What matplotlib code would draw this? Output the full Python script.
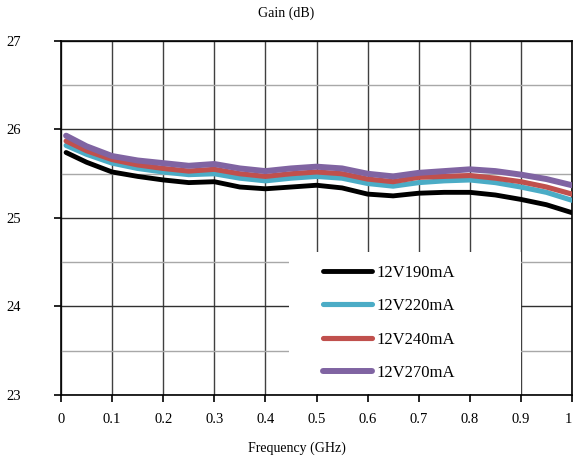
import matplotlib
matplotlib.use("Agg")
import matplotlib.pyplot as plt
from matplotlib.patches import Rectangle

plt.rcParams['font.family'] = ['Liberation Serif', 'DejaVu Serif']

# Frequenz (GHz)
freq = [0.01, 0.05, 0.1, 0.15, 0.2, 0.25, 0.3, 0.35, 0.4, 0.45, 0.5,
        0.55, 0.6, 0.65, 0.7, 0.75, 0.8, 0.85, 0.9, 0.95, 1.0]

# Gain (dB) pro Arbeitspunkt
gain_190 = [25.74, 25.63, 25.52, 25.47, 25.43, 25.40, 25.41, 25.35, 25.33, 25.35, 25.37,
            25.34, 25.27, 25.25, 25.28, 25.29, 25.29, 25.26, 25.21, 25.15, 25.06]
gain_220 = [25.82, 25.72, 25.62, 25.56, 25.52, 25.49, 25.50, 25.45, 25.42, 25.45, 25.47,
            25.45, 25.39, 25.36, 25.40, 25.42, 25.43, 25.40, 25.35, 25.29, 25.20]
gain_240 = [25.87, 25.76, 25.66, 25.60, 25.56, 25.53, 25.55, 25.50, 25.47, 25.50, 25.52,
            25.50, 25.44, 25.41, 25.46, 25.47, 25.48, 25.45, 25.41, 25.35, 25.27]
gain_270 = [25.93, 25.81, 25.70, 25.65, 25.62, 25.59, 25.61, 25.56, 25.53, 25.56, 25.58,
            25.56, 25.50, 25.47, 25.51, 25.53, 25.55, 25.53, 25.49, 25.44, 25.37]

labels = ["12V190mA", "12V220mA", "12V240mA", "12V270mA"]
x_ticks = [0, 0.1, 0.2, 0.3, 0.4, 0.5, 0.6, 0.7, 0.8, 0.9, 1]
x_ticklabels = ["0", "0.1", "0.2", "0.3", "0.4", "0.5", "0.6", "0.7", "0.8", "0.9", "1"]
y_ticks = [23, 24, 25, 26, 27]

farben = ["#000000", "#4BACC6", "#C0504D", "#8064A2"]
breiten = [3.5, 3.7, 3.7, 4.3]

fig = plt.figure(figsize=(5.74, 4.61), dpi=100)
ax = fig.add_axes([61 / 574, 66 / 461, 511 / 574, 354 / 461])
ax.set_axisbelow(True)

for werte, lab, c, lw in zip([gain_190, gain_220, gain_240, gain_270], labels, farben, breiten):
    ax.plot(freq, werte, color=c, lw=lw, label=lab, solid_capstyle='round',
            solid_joinstyle='round', zorder=3)

ax.set_xlim(0, 1)
ax.set_ylim(23, 27)
ax.set_xticks(x_ticks)
ax.set_xticklabels(x_ticklabels)
ax.get_xticklabels()[-1].set_horizontalalignment('right')
ax.set_yticks(y_ticks)
ax.set_yticks([23.5, 24.5, 25.5, 26.5], minor=True)
ax.tick_params(axis='y', which='minor', length=0)
ax.tick_params(axis='x', length=5, width=1.2, pad=8, labelsize=10.5)
ax.tick_params(axis='y', length=5, width=1.2, pad=24, labelsize=10.5)

ax.grid(axis='x', which='major', color='#404040', lw=1.0)
ax.grid(axis='y', which='major', color='#303030', lw=1.0)
ax.grid(axis='y', which='minor', color='#a8a8a8', lw=1.0)
for s in ax.spines.values():
    s.set_color('black')
    s.set_linewidth(1.2)

# weisser Hintergrund fuer die Legende
ax.add_patch(Rectangle((0.447, 0.003), 0.453, 0.401, transform=ax.transAxes,
                       facecolor='white', edgecolor='none', zorder=1))
ax.legend(loc='upper left', bbox_to_anchor=(0.497, 0.392), frameon=False,
          fontsize=12, handlelength=2.9, handletextpad=0.3, labelspacing=1.05,
          borderpad=0)

fig.text(286 / 574, 1 - 13 / 461, "Gain (dB)", ha='center', va='center', fontsize=10)
fig.text(297 / 574, 1 - 448 / 461, "Frequency (GHz)", ha='center', va='center', fontsize=10)

fig.savefig("out.png", dpi=100)
